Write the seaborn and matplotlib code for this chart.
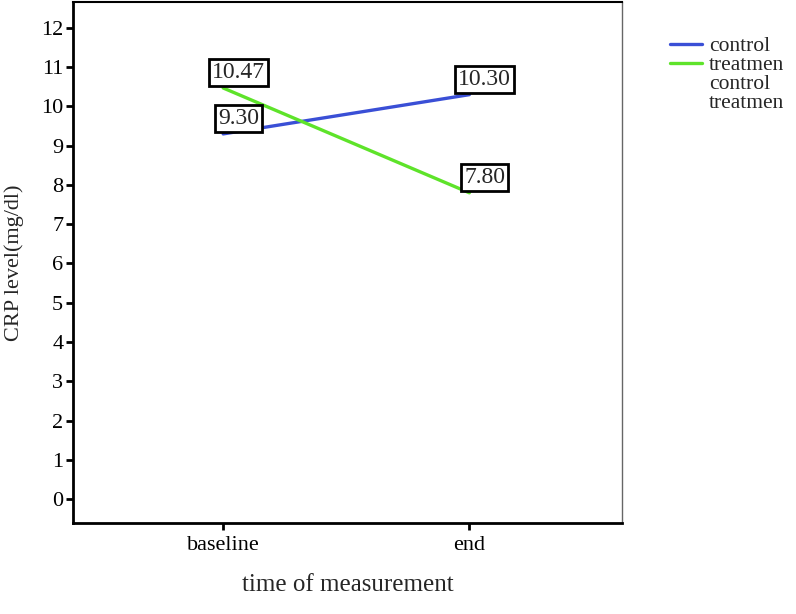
import matplotlib
matplotlib.use("Agg")
import matplotlib.pyplot as plt
import seaborn as sns
import pandas as pd
from matplotlib.lines import Line2D

times = ["baseline", "end"]
control = [9.30, 10.30]
treatment = [10.47, 7.80]
groups = ["control", "treatmen"]
yticks = list(range(0, 13))

df = pd.DataFrame({
    "time": times * 2,
    "crp": control + treatment,
    "group": [groups[0]] * 2 + [groups[1]] * 2,
})

sns.set_style("white")
plt.rcParams["font.family"] = ["Liberation Serif", "DejaVu Serif"]

colors = {"control": "#3a4fd6", "treatmen": "#5ee32a"}

fig = plt.figure(figsize=(7.96, 6.14), dpi=100)
ax = fig.add_axes([73 / 796, 1 - 523 / 614, (622 - 73) / 796, (523 - 2) / 614])

sns.lineplot(data=df, x="time", y="crp", hue="group", palette=colors,
             linewidth=2.4, ax=ax, legend=False, sort=False)

ax.set_xlim(-0.61, 1.62)
ax.set_ylim(-0.61, 12.66)
ax.set_yticks(yticks)
ax.set_yticklabels([str(t) for t in yticks])
ax.set_xticks([0, 1])
ax.set_xticklabels(times)
ax.tick_params(axis="both", direction="out", length=5, width=2, labelsize=16,
               colors="black", pad=2, left=True, bottom=True)
ax.tick_params(axis="x", pad=4)

for side in ["left", "bottom"]:
    ax.spines[side].set_linewidth(2)
    ax.spines[side].set_color("black")
ax.spines["top"].set_linewidth(1.5)
ax.spines["top"].set_color("black")
ax.spines["right"].set_linewidth(1)
ax.spines["right"].set_color("#666666")

ax.set_xlabel("time of measurement", fontsize=18, labelpad=14)
ax.set_ylabel("CRP level(mg/dl)", fontsize=16, labelpad=12)

for vals in (control, treatment):
    for i, v in enumerate(vals):
        ax.annotate(f"{v:.2f}", xy=(i, v), xytext=(11, 11), textcoords="offset points",
                    ha="center", va="center", fontsize=17, zorder=5,
                    bbox=dict(boxstyle="square,pad=0.12", fc="white", ec="black", lw=2))

handles = [Line2D([], [], color=colors["control"], lw=2.4),
           Line2D([], [], color=colors["treatmen"], lw=2.4),
           Line2D([], [], color="none"),
           Line2D([], [], color="none")]
labels = ["control", "treatmen", "control", "treatmen"]
fig.legend(handles, labels, loc="upper left", bbox_to_anchor=(670 / 796, 1 - 36 / 614),
           frameon=False, fontsize=15.5, handlelength=1.5, handletextpad=0.3,
           labelspacing=-0.05, borderaxespad=0, borderpad=0)

fig.savefig("out.png", dpi=100)
